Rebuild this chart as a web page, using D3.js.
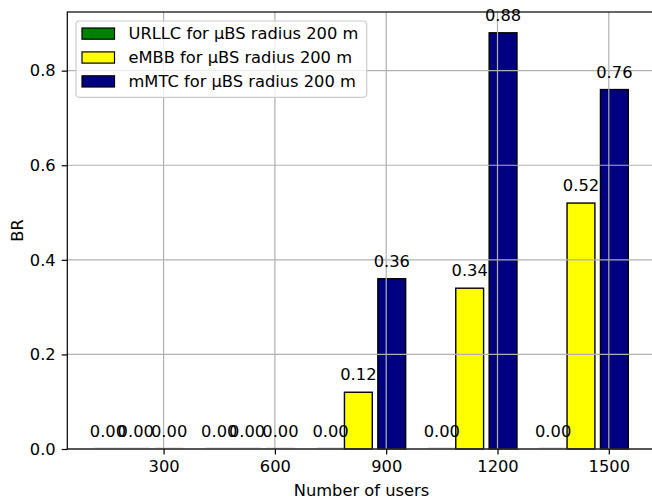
<!DOCTYPE html>
<html>
<head>
<meta charset="utf-8">
<script src="https://cdn.jsdelivr.net/npm/d3@7"></script>
<style>
  html, body { margin: 0; padding: 0; background: #fff; }
  svg { display: block; }
  text { font-family: "DejaVu Sans", sans-serif; fill: #000; }
</style>
</head>
<body>
<div id="chart"></div>
<script>
// ---- data ----
const users = [300, 600, 900, 1200, 1500];
const urllc = [0.00, 0.00, 0.00, 0.00, 0.00];
const embb  = [0.00, 0.00, 0.12, 0.34, 0.52];
const mmtc  = [0.00, 0.00, 0.36, 0.88, 0.76];
const yTicks = [0.0, 0.2, 0.4, 0.6, 0.8];
const seriesNames = ["URLLC for μBS radius 200 m", "eMBB for μBS radius 200 m", "mMTC for μBS radius 200 m"];
const seriesColors = ["#008000", "#ffff00", "#000080"];

(function () {
// ---- layout ----
const W = 652, H = 502;
const mL = 67.3, mR = 655, mT = 12, mB = 449;
const barW = 75;                 // bar width in data units
const offsets = [-150, -75, 15]; // bar centre offsets in data units
const fs = 16.3;

const series = [urllc, embb, mmtc];

const x = d3.scaleLinear().domain([40.5, 1624.5]).range([mL, mR]);
const y = d3.scaleLinear().domain([0, 0.924]).range([mB, mT]);

const svg = d3.select("#chart").append("svg").attr("width", W).attr("height", H);

// bars (below grid)
const gBars = svg.append("g");
series.forEach((vals, si) => {
  vals.forEach((v, i) => {
    const x0 = x(users[i] + offsets[si] - barW / 2);
    const x1 = x(users[i] + offsets[si] + barW / 2);
    if (v > 0) {
      gBars.append("rect")
        .attr("x", x0).attr("y", y(v))
        .attr("width", x1 - x0).attr("height", y(0) - y(v))
        .attr("fill", seriesColors[si])
        .attr("stroke", "#000").attr("stroke-width", 1.4);
    } else {
      gBars.append("line")
        .attr("x1", x0).attr("x2", x1)
        .attr("y1", y(0) - 1).attr("y2", y(0) - 1)
        .attr("stroke", "#d0d0d0").attr("stroke-width", 1);
    }
  });
});

// grid
const gGrid = svg.append("g");
users.forEach(u => {
  gGrid.append("line").attr("x1", x(u)).attr("x2", x(u)).attr("y1", mT).attr("y2", mB)
    .attr("stroke", "#b0b0b0").attr("stroke-width", 1.2);
});
yTicks.forEach(t => {
  gGrid.append("line").attr("x1", mL).attr("x2", mR).attr("y1", y(t)).attr("y2", y(t))
    .attr("stroke", "#b0b0b0").attr("stroke-width", 1.2);
});

// axes
const xAxis = d3.axisBottom(x).tickValues(users).tickSize(5.6).tickPadding(5).tickFormat(d3.format("d"));
const gx = svg.append("g").attr("transform", `translate(0,${mB})`).call(xAxis);
gx.select(".domain").remove();
gx.selectAll(".tick line").attr("stroke", "#000").attr("stroke-width", 1.2);
gx.selectAll(".tick text").attr("font-size", fs).attr("font-family", "DejaVu Sans").attr("fill", "#000").attr("dy", "0.76em");

const yAxis = d3.axisLeft(y).tickValues(yTicks).tickSize(5.6).tickPadding(6).tickFormat(d3.format(".1f"));
const gy = svg.append("g").attr("transform", `translate(${mL},0)`).call(yAxis);
gy.select(".domain").remove();
gy.selectAll(".tick line").attr("stroke", "#000").attr("stroke-width", 1.2);
gy.selectAll(".tick text").attr("font-size", fs).attr("font-family", "DejaVu Sans").attr("fill", "#000");

// spines
svg.append("rect").attr("x", mL).attr("y", mT).attr("width", mR - mL).attr("height", mB - mT)
  .attr("fill", "none").attr("stroke", "#000").attr("stroke-width", 1.2);

// value labels
const gLab = svg.append("g");
series.forEach((vals, si) => {
  vals.forEach((v, i) => {
    gLab.append("text")
      .attr("x", x(users[i] + offsets[si]))
      .attr("y", y(v) - 12)
      .attr("text-anchor", "middle")
      .attr("font-size", fs)
      .text(v.toFixed(2));
  });
});

// axis labels
svg.append("text").attr("x", 361.5).attr("y", 496)
  .attr("text-anchor", "middle").attr("font-size", fs).text("Number of users");
svg.append("text").attr("transform", `translate(22.5,${(mT + mB) / 2}) rotate(-90)`)
  .attr("text-anchor", "middle").attr("font-size", fs).text("BR");

// legend
const gLeg = svg.append("g");
gLeg.append("rect").attr("x", 76).attr("y", 21).attr("width", 290.7).attr("height", 76.3)
  .attr("rx", 3.5).attr("fill", "#fff").attr("fill-opacity", 0.8)
  .attr("stroke", "#cccccc").attr("stroke-width", 1.2);
seriesNames.forEach((name, i) => {
  const cy = 33.6 + i * 23.9;
  gLeg.append("rect").attr("x", 82).attr("y", cy - 5.6).attr("width", 32.5).attr("height", 11.2)
    .attr("fill", seriesColors[i]).attr("stroke", "#000").attr("stroke-width", 1.2);
  gLeg.append("text").attr("x", 128.5).attr("y", cy + 5.8).attr("font-size", fs).text(name);
});
})();
</script>
</body>
</html>
